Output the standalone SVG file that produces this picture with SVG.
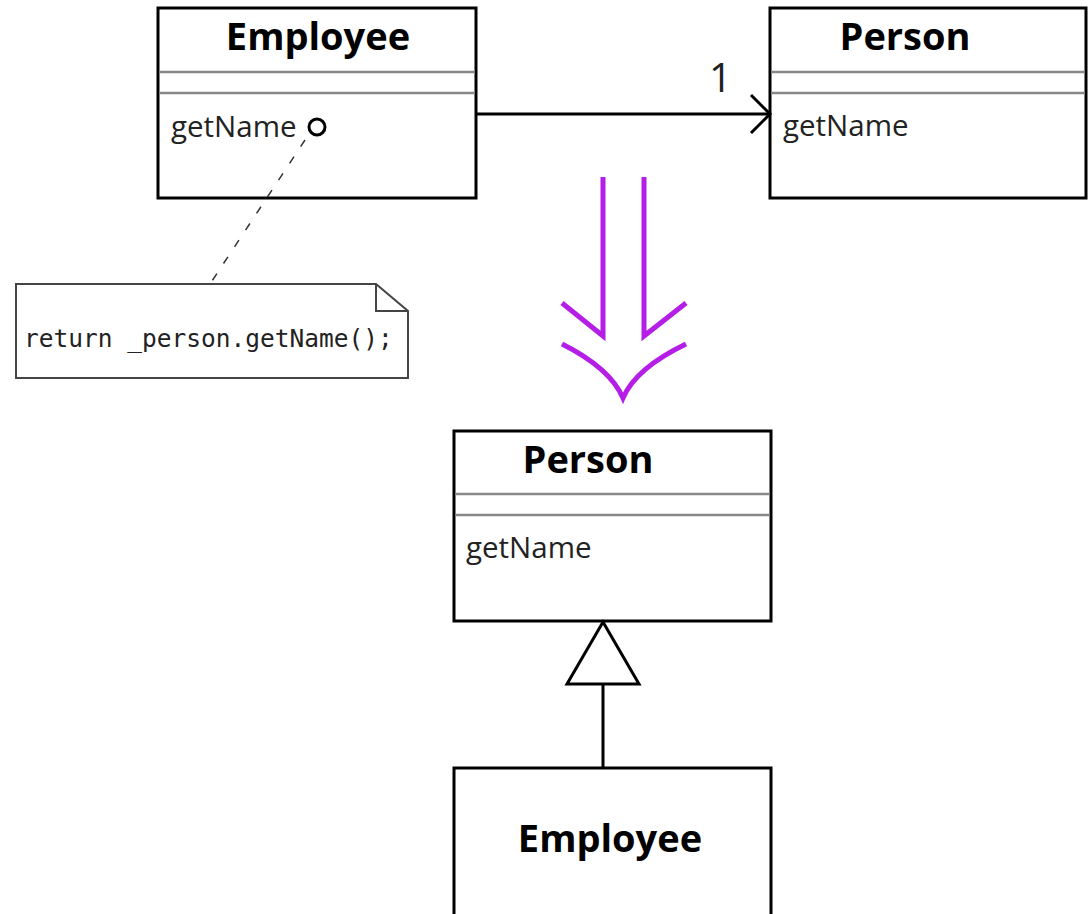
<svg xmlns="http://www.w3.org/2000/svg" width="1088" height="914" viewBox="0 0 1088 914">
<defs>
<style>
.box{fill:#fff;stroke:#000;stroke-width:3}
.sep{stroke:#888;stroke-width:2.5}
.title{font-family:"Open Sans",sans-serif;font-weight:bold;font-size:38px;fill:#000;text-anchor:middle}
.op{font-family:"Open Sans",sans-serif;font-size:29.5px;fill:#222}
.code{font-family:"DejaVu Sans Mono",monospace;font-size:24.5px;fill:#222}
.line{fill:none;stroke:#000;stroke-width:3}
.purple{fill:none;stroke:#b41ee6;stroke-width:5}
</style>
</defs>
<rect width="1088" height="914" fill="#fff"/>
<g id="refactor-arrow">
<polyline class="purple" points="603,177 603,336 562,303"/>
<polyline class="purple" points="644,177 644,336 686,303"/>
<path class="purple" d="M562,344 Q610,368 623,398 Q636,368 686,344"/>
</g>
<g id="employee-old">
<rect class="box" x="158" y="8" width="318" height="190"/>
<text class="title" x="318" y="50">Employee</text>
<line class="sep" x1="159" y1="72" x2="475" y2="72"/>
<line class="sep" x1="159" y1="93" x2="475" y2="93"/>
<text class="op" x="171" y="137">getName</text>
<circle cx="317" cy="127" r="8" fill="#fff" stroke="#000" stroke-width="3"/>
</g>
<g id="person-old">
<rect class="box" x="770" y="8" width="316" height="190"/>
<text class="title" x="905" y="50">Person</text>
<line class="sep" x1="771" y1="72" x2="1085" y2="72"/>
<line class="sep" x1="771" y1="93" x2="1085" y2="93"/>
<text class="op" x="783" y="136">getName</text>
</g>
<g id="note">
<path d="M16,284 H376 L408,311 V378 H16 Z" fill="#fff" stroke="#444" stroke-width="2"/>
<path d="M376,284 V311 H408" fill="none" stroke="#444" stroke-width="2"/>
<text class="code" x="24" y="347">return _person.getName();</text>
</g>
<g id="person-new">
<rect class="box" x="454" y="431" width="317" height="190"/>
<text class="title" x="588" y="473">Person</text>
<line class="sep" x1="455" y1="494" x2="770" y2="494"/>
<line class="sep" x1="455" y1="515" x2="770" y2="515"/>
<text class="op" x="466" y="558">getName</text>
</g>
<g id="employee-new">
<rect class="box" x="454" y="768" width="317" height="160"/>
<text class="title" x="610" y="852">Employee</text>
</g>
<g id="connectors">
<line class="line" x1="476" y1="114" x2="769" y2="114"/>
<polyline class="line" points="751,95 770,114 751,133"/>
<text x="709" y="92" style="font-family:'Open Sans',sans-serif;font-size:40px;fill:#222">1</text>
<line x1="305" y1="140" x2="210" y2="284" stroke="#333" stroke-width="1.5" stroke-dasharray="8,12"/>
<line class="line" x1="603" y1="684" x2="603" y2="768"/>
<polygon points="603,622 567,684 639,684" fill="#fff" stroke="#000" stroke-width="3"/>
</g>
</svg>
